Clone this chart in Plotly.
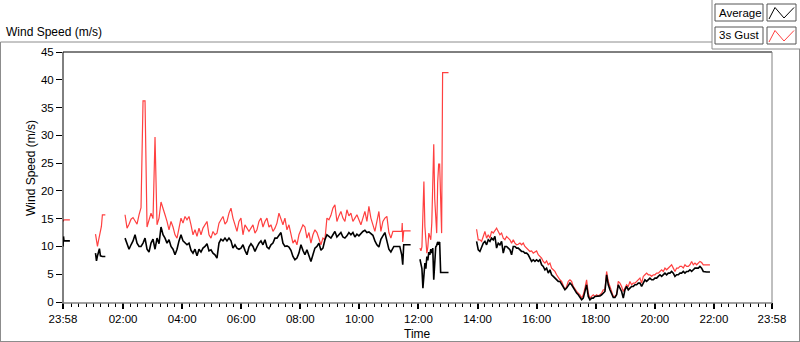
import pandas as pd
import plotly.graph_objects as go

# ---------------- data ----------------
D0 = "2024-01-01"   # previous day (only 23:58)
D1 = "2024-01-02"   # the plotted day

# segment 1 : just after midnight
seg1_times = [f"{D0} 23:58", f"{D0} 23:59", f"{D1} 00:00", f"{D1} 00:12"]
seg1_gust = [14.5, 14.8, 14.8, 14.8]
seg1_avg = [10.0, 11.8, 11.0, 11.0]

# segment 2 : ~01:04 - 01:24 (11 samples)
seg2_range = (f"{D1} 01:04", f"{D1} 01:24")
seg2_gust = [12.2, 10.5, 10.0, 11.0, 11.8, 13.0, 13.6, 15.7, 15.7, 15.7, 15.7]
seg2_avg = [8.8, 7.4, 8.3, 9.3, 9.6, 8.3, 8.2, 8.2, 8.2, 8.2, 8.2]

# segment 3 : 02:04 - 11:08 (135 samples)
seg3_range = (f"{D1} 02:04", f"{D1} 11:08")
seg3_gust = [
    15.7, 13.3, 14.0, 14.9, 15.2, 14.7, 14.0, 15.7, 17.0, 36.2, 36.2, 13.5,
    15.0, 16.0, 15.0, 29.7, 13.9, 15.1, 18.0, 17.0, 15.7, 14.5, 13.0, 14.5, 13.5, 12.1,
    11.5, 13.3, 15.1, 14.2, 15.4, 14.8, 15.4, 13.9, 12.1, 13.0, 11.8, 13.3, 12.1, 13.3,
    13.9, 14.5,
    12.1, 11.5, 12.7, 12.1, 12.4, 14.2, 14.8, 15.4, 14.0, 14.5, 16.0, 16.9, 15.1, 13.9,
    12.7, 14.5, 15.1, 12.1, 13.9, 13.3, 12.7, 13.3, 13.9, 12.4, 13.0, 14.5, 15.1, 13.5,
    14.5, 15.1, 13.5, 13.9, 12.7, 13.3, 14.2, 16.0, 15.1, 13.9, 15.1, 13.0, 13.9, 12.1,
    10.6, 11.2, 10.3, 12.1,
    13.0, 13.9, 13.5, 11.5, 12.5, 10.6, 12.1, 13.0, 12.5, 11.5, 10.3, 11.5, 11.2, 15.1,
    14.8, 15.6, 16.9, 17.5, 14.5, 15.5, 16.3, 15.1, 14.5, 16.6, 15.5, 16.0, 14.5, 15.1,
    15.7, 14.8, 13.9, 15.1, 16.3, 14.5, 17.2, 15.1, 13.9, 12.7, 14.5, 16.3, 12.7, 14.5,
    15.1, 15.4, 12.5, 11.5, 12.7,
]
seg3_avg = [
    11.5, 10.6, 9.5, 10.3, 11.0, 12.1, 10.6, 10.0, 10.0, 10.6, 11.5, 9.5, 9.0, 10.6,
    11.3, 9.5, 11.5, 10.5, 13.5, 12.1, 11.5, 10.6, 11.2, 10.0, 9.5, 8.5, 9.5, 11.0, 12.1,
    11.0, 10.6, 10.3, 10.6, 9.3, 8.8, 9.5, 8.3, 9.5, 9.0, 9.7, 10.0, 10.5, 9.2, 9.4, 8.8,
    8.5, 7.9, 10.6, 11.3, 11.0, 11.5, 11.0, 11.5, 11.0, 9.7, 10.3, 9.7, 9.5, 9.7, 10.3,
    9.3, 8.5, 9.9, 10.5, 10.0, 9.1, 9.9, 10.6, 11.0, 10.3, 11.2, 9.9, 9.6, 10.3, 10.6,
    11.5, 11.5, 12.1, 12.5, 10.6, 10.0, 10.1, 9.9, 9.3, 8.2, 7.6, 7.9, 8.8,
    10.3, 9.3, 8.5, 9.4, 8.5, 7.3, 8.5, 9.7, 10.0, 10.6, 9.3, 9.7, 11.2, 12.1, 11.8,
    11.5, 12.1, 12.7, 11.7, 12.1, 12.5, 11.7, 11.5, 11.9, 12.5, 12.1, 12.5, 11.7, 12.2,
    11.9, 12.4, 12.7, 12.9, 12.5, 12.6, 12.3, 12.0, 11.0, 10.3, 9.9, 11.3, 11.9, 12.5,
    11.0, 9.5, 9.0, 9.8,
]
# sparse readings right after segment 3
tail_gust_times = ["11:10", "11:26", "11:27", "11:28", "11:30", "11:44"]
tail_gust = [12.7, 12.7, 14.2, 10.8, 12.8, 12.8]
tail_avg_times = ["11:10", "11:22", "11:26", "11:28", "11:30", "11:44"]
tail_avg = [10.0, 10.0, 8.5, 6.7, 10.3, 10.3]

# segment 4 : 12:03 - 13:01 (30 samples)
seg4_range = (f"{D1} 12:03", f"{D1} 13:01")
seg4_gust = [9.7, 9.2, 9.9, 15.4, 21.7, 13.6, 11.2, 8.8, 9.9, 12.4, 11.8, 11.2, 14.2,
             19.6, 28.4, 18.5, 14.2, 12.4, 21.5, 24.8, 24.8, 15.0, 12.4,
             41.3, 41.3, 41.3, 41.3, 41.3, 41.3, 41.3]
seg4_avg = [7.7, 6.4, 6.0, 2.5, 4.5, 7.0, 6.0, 8.2, 7.5, 9.0, 8.5, 9.5, 8.8, 9.7, 4.0,
            8.5, 9.9, 10.2, 10.8, 10.5, 10.8, 5.3, 5.3, 5.3, 5.3, 5.3, 5.3, 5.3, 5.3, 5.3]

# segment 5 : 13:58 - 21:52 (141 samples)
seg5_range = (f"{D1} 13:58", f"{D1} 21:52")
seg5_gust = [
    13.1, 11.2, 11.2, 10.9, 11.8, 12.7, 11.5, 12.1, 11.5, 12.7,
    12.4, 13.0, 13.3, 12.7, 12.1, 12.4, 11.5, 11.2, 11.8, 11.5,
    11.2, 10.6, 11.2, 10.6, 10.3, 10.4, 10.6, 10.3, 10.6, 10.0,
    9.7, 9.4, 9.1, 9.2, 8.8, 9.0, 9.2, 8.5, 8.2, 7.9,
    7.3, 7.0, 7.4, 6.7, 7.0, 6.1, 5.8, 5.5, 4.9, 4.3,
    4.0, 3.7, 2.8, 2.2, 2.8, 3.7, 4.0, 3.7, 2.8, 2.2,
    1.9, 1.6, 1.3, 0.7, 1.3, 2.5, 4.0, 1.6, 0.7, 1.0,
    1.3, 1.0, 1.3, 1.1, 1.3, 1.6, 2.2, 2.2, 5.5, 3.7,
    2.8, 1.9, 1.0, 1.0, 1.3, 3.7, 3.4, 2.8, 1.9, 2.5,
    3.1, 2.8, 3.7, 3.1, 3.4, 3.4, 3.7, 4.0, 4.3, 3.4,
    4.6, 4.9, 5.2, 4.9, 4.9, 4.6, 4.9, 4.9, 5.2, 5.2,
    5.5, 5.8, 5.5, 6.1, 5.8, 6.1, 6.4, 6.7, 6.1, 5.5,
    6.1, 6.1, 6.4, 6.4, 6.1, 6.7, 6.4, 6.4, 6.7, 7.3,
    6.7, 7.0, 6.7, 7.0, 7.3, 7.1, 6.7, 6.7, 6.7, 6.7,
    6.7,
]
seg5_avg = [
    10.9, 9.4, 9.1, 10.0, 10.6, 10.9, 10.3, 11.2, 10.9, 11.5,
    11.2, 11.8, 9.7, 10.6, 10.3, 10.9, 8.8, 10.0, 10.0, 9.7,
    9.4, 8.5, 10.0, 10.0, 9.7, 9.7, 9.4, 9.1, 9.1, 8.8,
    8.8, 8.5, 7.9, 7.3, 7.6, 7.3, 7.6, 7.3, 7.6, 6.7,
    6.4, 5.8, 6.1, 5.2, 5.8, 4.9, 4.6, 4.3, 4.0, 3.7,
    3.7, 3.1, 2.5, 2.2, 2.5, 3.1, 3.4, 3.1, 2.5, 1.9,
    1.6, 1.3, 0.7, 0.4, 0.7, 1.9, 3.1, 1.0, 0.4, 0.7,
    0.7, 1.0, 1.0, 1.0, 1.1, 1.3, 1.6, 1.9, 4.9, 3.1,
    2.2, 1.3, 0.8, 0.8, 1.3, 3.1, 2.5, 1.9, 0.7, 2.2,
    2.8, 2.2, 2.5, 2.8, 2.8, 3.1, 3.1, 3.4, 3.4, 2.8,
    3.4, 4.0, 3.7, 4.0, 4.3, 4.0, 4.0, 4.3, 4.3, 4.6,
    4.9, 4.6, 4.9, 5.2, 4.9, 5.2, 5.2, 5.5, 5.2, 4.6,
    4.9, 4.9, 5.2, 5.2, 5.5, 5.2, 5.5, 5.5, 5.8, 5.5,
    5.8, 6.1, 6.1, 6.1, 6.4, 6.1, 5.5, 5.4, 5.4, 5.4,
    5.4,
]

tick_labels = ["23:58", "02:00", "04:00", "06:00", "08:00", "10:00", "12:00",
               "14:00", "16:00", "18:00", "20:00", "22:00", "23:58"]
y_ticks = [0, 5, 10, 15, 20, 25, 30, 35, 40, 45]
series_names = ["Average", "3s Gust"]

# ---------------- build traces ----------------
def rng(r, n):
    return list(pd.date_range(r[0], r[1], periods=n))

def join(parts):
    xs, ys = [], []
    for i, (tx, vy) in enumerate(parts):
        if i:
            xs.append(None); ys.append(None)
        xs += list(tx); ys += list(vy)
    return xs, ys

gx, gy = join([
    (pd.to_datetime(seg1_times), seg1_gust),
    (rng(seg2_range, len(seg2_gust)), seg2_gust),
    (rng(seg3_range, len(seg3_gust)) + list(pd.to_datetime([f"{D1} {t}" for t in tail_gust_times])),
     seg3_gust + tail_gust),
    (rng(seg4_range, len(seg4_gust)), seg4_gust),
    (rng(seg5_range, len(seg5_gust)), seg5_gust),
])
ax, ay = join([
    (pd.to_datetime(seg1_times), seg1_avg),
    (rng(seg2_range, len(seg2_avg)), seg2_avg),
    (rng(seg3_range, len(seg3_avg)) + list(pd.to_datetime([f"{D1} {t}" for t in tail_avg_times])),
     seg3_avg + tail_avg),
    (rng(seg4_range, len(seg4_avg)), seg4_avg),
    (rng(seg5_range, len(seg5_avg)), seg5_avg),
])

RED = "#ff4040"
fig = go.Figure()
fig.add_trace(go.Scatter(x=gx, y=gy, mode="lines", name=series_names[1],
                         line=dict(color=RED, width=1.2), connectgaps=False,
                         hoverinfo="skip"))
fig.add_trace(go.Scatter(x=ax, y=ay, mode="lines", name=series_names[0],
                         line=dict(color="#000000", width=1.6), connectgaps=False,
                         hoverinfo="skip"))

# ---------------- axes ----------------
x_start = pd.Timestamp(f"{D0} 23:58")
x_end = pd.Timestamp(f"{D1} 23:58")
major = [x_start] + [pd.Timestamp(f"{D1} {h:02d}:00") for h in range(2, 23, 2)] + [x_end]
minor = []
t = pd.Timestamp(f"{D1} 00:15")
while t < x_end:
    if not any(abs((t - m).total_seconds()) < 240 for m in major):
        minor.append(t)
    t += pd.Timedelta(minutes=15)

FONT = "Liberation Sans"
L, R, T, B = 63, 28, 52, 40
W, H = 800, 342
PW, PH = W - L - R, H - T - B

def PX(x):
    return (x - L) / PW

def PY(y):
    return (H - B - y) / PH

fig.update_layout(
    width=W, height=H, margin=dict(l=L, r=R, t=T, b=B),
    paper_bgcolor="white", plot_bgcolor="white", showlegend=False,
    hovermode=False,
    font=dict(family=FONT, size=11, color="#000"),
    xaxis=dict(range=[x_start, x_end], tickmode="array", tickvals=major,
               ticktext=tick_labels, ticks="outside", ticklen=6, tickwidth=2,
               tickcolor="#000", showgrid=False, zeroline=False, showline=False,
               tickfont=dict(family=FONT, size=11.5, color="#000"),
               minor=dict(tickmode="array", tickvals=minor, ticks="outside",
                          ticklen=4, tickwidth=1, tickcolor="#000", showgrid=False)),
    yaxis=dict(range=[0, 45], tickmode="array", tickvals=y_ticks,
               ticks="outside", ticklen=6, tickwidth=1, tickcolor="#000",
               showgrid=False, zeroline=False, showline=False,
               tickfont=dict(family=FONT, size=11.5, color="#000")),
)

shapes = []
def line(x0, y0, x1, y1, color, width=1):
    shapes.append(dict(type="line", xref="paper", yref="paper",
                       x0=PX(x0), y0=PY(y0), x1=PX(x1), y1=PY(y1),
                       line=dict(color=color, width=width), layer="above"))

# plot-area frame
line(63, 52, 772, 52, "#000")
line(63, 52, 63, 303, "#000")
line(772, 52, 772, 303, "#808080")
line(62, 303, 772, 303, "#808080", 1.5)
# outer control frame
GR = "#8c8c8c"
line(0.5, 42, 712, 42, GR)
line(712, 0, 712, 49, GR)
line(712, 49, 800, 49, GR)
line(799.5, 49, 799.5, 342, GR)
line(0.5, 42, 0.5, 342, GR)
line(0, 341.5, 800, 341.5, GR)

# legend boxes
for row, (name, col) in enumerate(zip(series_names, ["#000", RED])):
    y0 = 4 + row * 23
    shapes.append(dict(type="rect", xref="paper", yref="paper",
                       x0=PX(715), x1=PX(763), y0=PY(y0), y1=PY(y0 + 17),
                       line=dict(color="#555", width=1), fillcolor="white"))
    shapes.append(dict(type="rect", xref="paper", yref="paper",
                       x0=PX(767), x1=PX(796), y0=PY(y0), y1=PY(y0 + 17),
                       line=dict(color="#555", width=1), fillcolor="white"))
    pts = [(769, y0 + 15), (775, y0 + 3.5), (784, y0 + 14), (794, y0 + 3.5)]
    path = "M " + " L ".join(f"{PX(px)},{PY(py)}" for px, py in pts)
    shapes.append(dict(type="path", xref="paper", yref="paper", path=path,
                       line=dict(color=col, width=1)))
fig.update_layout(shapes=shapes)

ann = [
    dict(text="Wind Speed (m/s)", x=PX(4), y=PY(32), xanchor="left", yanchor="middle",
         font=dict(family=FONT, size=12, color="#000")),
    dict(text="Wind Speed (m/s)", x=PX(31), y=PY(168), xanchor="center", yanchor="middle",
         textangle=-90, font=dict(family=FONT, size=12, color="#000")),
    dict(text="Time", x=PX(417.5), y=PY(334), xanchor="center", yanchor="middle",
         font=dict(family=FONT, size=12, color="#000")),
]
for row, name in enumerate(series_names):
    ann.append(dict(text=name, x=PX(716.5), y=PY(12.5 + row * 23), xanchor="left",
                    yanchor="middle", font=dict(family=FONT, size=11.5, color="#000")))
for a in ann:
    a.update(xref="paper", yref="paper", showarrow=False)
fig.update_layout(annotations=ann)

fig.write_html("out.html", config={"displayModeBar": False},
               post_script="document.body.style.margin='0';document.body.style.overflow='hidden';")
